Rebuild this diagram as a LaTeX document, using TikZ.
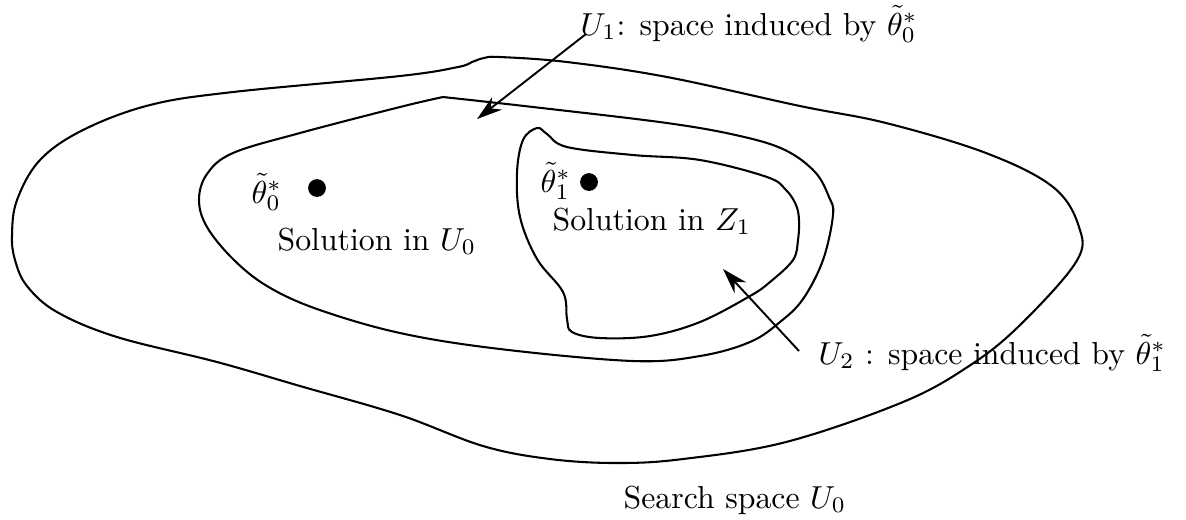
\documentclass[tikz,border=0pt]{standalone}
\usetikzlibrary{arrows.meta}
\begin{document}
\begin{tikzpicture}[x=0.3145pt,y=-0.3145pt,
  contour/.style={draw=black, line width=0.65pt},
  ptr/.style={-{Stealth[length=8pt,width=5pt]}, line width=0.6pt},
  dot/.style={circle, fill=black, inner sep=0pt, minimum size=5.6pt},
  lbl/.style={anchor=base west, inner sep=0pt, font=\fontsize{10}{12}\selectfont}]
\useasboundingbox (0,0) rectangle (1186,519);

% outer contour: search space U0
\draw[contour] plot[smooth cycle, tension=0.6] coordinates {
  (12,235) (17,200) (40,160) (83,130) (150,105) (233,92) (400,76)
  (458,67) (472,62) (484,58) (500,57) (567,62) (667,77) (800,106)
  (886,123) (986,153) (1053,187) (1079,227) (1076,262) (1019,326)
  (969,366) (903,402) (786,442) (683,459) (617,463) (550,459)
  (483,446) (400,415) (300,386) (217,362) (117,337) (57,312) (27,286)
  (15,260)};

% middle contour: U1
\draw[contour] plot[smooth, tension=0.6] coordinates {
  (443,97) (533,107) (667,123) (740,136) (785,150) (815,172)
  (829,197) (833,215) (823,260) (803,299) (780,322) (750,342) (700,356)
  (633,361) (500,349) (400,333) (317,309) (267,286) (233,259) (207,227)
  (199,200) (207,174) (233,153) (300,133) (400,107) (443,97)};

% inner contour: U2
\draw[contour] plot[smooth cycle, tension=0.6] coordinates {
  (537,128) (547,134) (567,147) (633,155) (700,160) (767,177) (786,190)
  (796,205) (799,220) (798,240) (793,260) (770,282) (750,296) (700,322)
  (650,336) (600,338) (572,332) (567,319) (563,292) (537,259) (520,217)
  (517,173) (523,140)};

% points
\node[dot] (p0) at (317,188) {};
\node[dot] (p1) at (589,182) {};
\node[lbl] (t0) at (251,203) {$\tilde{\theta}_0^*$};
\node[lbl] (t1) at (540,192) {$\tilde{\theta}_1^*$};

% texts
\node[lbl] (s0) at (277,250) {Solution in $U_0$};
\node[lbl] (s1) at (552,230) {Solution in $Z_1$};
\node[lbl] (u1) at (580,35) {$U_1$: space induced by $\tilde{\theta}_0^*$};
\node[lbl] (u2) at (818,364) {$U_2$ : space induced by $\tilde{\theta}_1^*$};
\node[lbl] (ss) at (623,508) {Search space $U_0$};

% arrows
\coordinate (a1s) at (586,34);
\coordinate (a1e) at (477,119);
\coordinate (a2s) at (799,351);
\coordinate (a2e) at (723,269);
\draw[ptr] (a1s) -- (a1e);
\draw[ptr] (a2s) -- (a2e);
\end{tikzpicture}
\end{document}
